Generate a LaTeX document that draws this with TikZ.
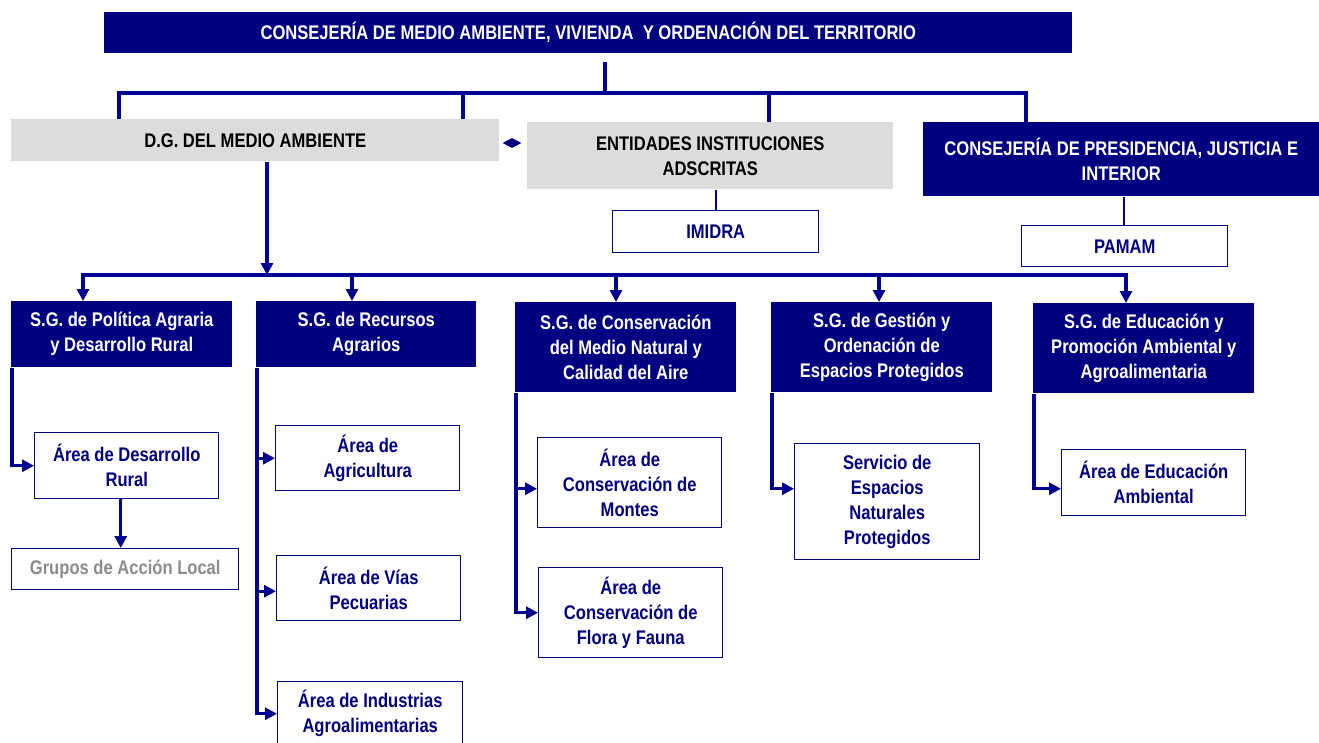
\documentclass[tikz,border=0pt]{standalone}
\usepackage{fontspec}
\setmainfont{Liberation Sans}[FakeStretch=0.84]
\usetikzlibrary{arrows.meta, shapes.geometric}
\definecolor{navy}{RGB}{0,0,128}
\definecolor{linenavy}{RGB}{0,0,145}
\definecolor{boxgray}{RGB}{220,220,220}
\definecolor{textgray}{RGB}{140,140,140}
\newlength{\px}\setlength{\px}{0.75pt}

\begin{document}
\begin{tikzpicture}[x=\px, y=-\px, >={Triangle[length=9pt,width=9pt]},
      every node/.style={font=\fontsize{14.8}{18.8}\selectfont\bfseries, align=center,
        inner sep=0pt, anchor=north west},
      navybox/.style={fill=navy, text=white},
      graybox/.style={fill=boxgray, text=black},
      unitbox/.style={draw=navy, line width=1.1pt, fill=white, text=navy},
      link/.style={draw=linenavy, line width=2.6pt},
      thinlink/.style={draw=linenavy, line width=1.8pt}
      ]
      \useasboundingbox[fill=white] (0,0) rectangle (1319,742);
      % top level
      \node[navybox, minimum width=968\px, minimum height=41\px] (top) at (104,12)
        {CONSEJERÍA DE MEDIO AMBIENTE, VIVIENDA~~Y ORDENACIÓN DEL TERRITORIO};
      \node[graybox, minimum width=488\px, minimum height=42\px] (dg) at (11,119) {D.G. DEL MEDIO AMBIENTE};
      \node[graybox, minimum width=366\px, minimum height=67\px] (ent) at (527,122)
        {ENTIDADES INSTITUCIONES\\ADSCRITAS};
      \node[navybox, minimum width=396\px, minimum height=74\px] (pres) at (923,122)
        {CONSEJERÍA DE PRESIDENCIA, JUSTICIA E\\INTERIOR};
      \node[diamond, fill=navy, minimum width=19\px, minimum height=10\px, anchor=center] (rel) at (512,143) {};
      \node[unitbox, minimum width=206\px, minimum height=42\px] (imidra) at (612,210) {IMIDRA};
      \node[unitbox, minimum width=206\px, minimum height=41\px] (pamam) at (1021,225) {PAMAM};

      % subdirecciones generales
      \node[navybox, minimum width=221\px, minimum height=66\px] (sg1) at (11,301)
        {S.G. de Política Agraria\\y Desarrollo Rural};
      \node[navybox, minimum width=220\px, minimum height=66\px] (sg2) at (256,301)
        {S.G. de Recursos\\Agrarios};
      \node[navybox, minimum width=221\px, minimum height=90\px] (sg3) at (515,302)
        {S.G. de Conservación\\del Medio Natural y\\Calidad del Aire};
      \node[navybox, minimum width=221\px, minimum height=90\px] (sg4) at (771,302)
        {S.G. de Gestión y\\Ordenación de\\Espacios Protegidos};
      \node[navybox, minimum width=221\px, minimum height=90\px] (sg5) at (1033,303)
        {S.G. de Educación y\\Promoción Ambiental y\\Agroalimentaria};

      % areas
      \node[unitbox, minimum width=184\px, minimum height=66\px] (adr) at (34,432) {Área de Desarrollo\\Rural};
      \node[unitbox, minimum width=227\px, minimum height=41\px, text=textgray] (gal) at (11,548)
        {Grupos de Acción Local};
      \node[unitbox, minimum width=184\px, minimum height=65\px] (agri) at (275,425) {Área de\\Agricultura};
      \node[unitbox, minimum width=184\px, minimum height=65\px] (vias) at (276,555) {Área de Vías\\Pecuarias};
      \node[unitbox, minimum width=185\px, minimum height=64\px] (ind) at (277,681)
        {Área de Industrias\\Agroalimentarias};
      \node[unitbox, minimum width=184\px, minimum height=90\px] (montes) at (537,437)
        {Área de\\Conservación de\\Montes};
      \node[unitbox, minimum width=184\px, minimum height=90\px] (flora) at (538,567)
        {Área de\\Conservación de\\Flora y Fauna};
      \node[unitbox, minimum width=185\px, minimum height=116\px] (serv) at (794,443)
        {Servicio de\\Espacios\\Naturales\\Protegidos};
      \node[unitbox, minimum width=184\px, minimum height=66\px] (edu) at (1061,449)
        {Área de Educación\\Ambiental};

      % connectors, upper part
      \coordinate (hubtop) at (605,62);
      \coordinate (hub) at (605,93);
      \draw[link] (hubtop) -- (hub);
      \draw[link] ([xshift=108\px]dg.north west) |- (hub) -| ([xshift=103\px]pres.north west);
      \draw[link] ([xshift=452\px]dg.north west) |- (hub);
      \draw[link] ([xshift=242\px]ent.north west) |- (hub);
      \coordinate (im) at ([xshift=104\px]imidra.north west);
      \draw[thinlink] (im) -- (im |- ent.south);
      \coordinate (pa) at ([xshift=103\px]pamam.north west);
      \draw[thinlink] (pa) -- (pa |- pres.south);

      % connectors, lower part
      \coordinate (bus) at (267,275);
      \draw[link,->] (dg.south -| bus) -- (bus);
      \draw[link,->] (bus) -| ([xshift=72\px]sg1.north west);
      \draw[link,->] (bus) -| ([xshift=93\px]sg5.north west);
      \foreach \n/\dx in {sg2/96, sg3/101, sg4/108} {
        \coordinate (a-\n) at ([xshift=\dx\px]\n.north west);
        \draw[link,->] (bus -| a-\n) -- (a-\n);
      }
      \draw[link,->] ([xshift=1\px]sg1.south west) |- (adr.west);
      \coordinate (d) at ([xshift=-6\px]adr.south);
      \draw[link,->] (d) -- (d |- gal.north);
      \draw[link,->] ([xshift=1\px]sg2.south west) |- (agri.west);
      \draw[link,->] ([xshift=1\px]sg2.south west) |- ([yshift=-3\px]vias.west);
      \draw[link,->] ([xshift=1\px]sg2.south west) |- (ind.west);
      \draw[link,->] ([xshift=1\px]sg3.south west) |- ([yshift=-6\px]montes.west);
      \draw[link,->] ([xshift=1\px]sg3.south west) |- (flora.west);
      \draw[link,->] ([xshift=1\px]sg4.south west) |- ([yshift=13\px]serv.west);
      \draw[link,->] ([xshift=1\px]sg5.south west) |- ([yshift=-6\px]edu.west);
    \end{tikzpicture}
\end{document}
